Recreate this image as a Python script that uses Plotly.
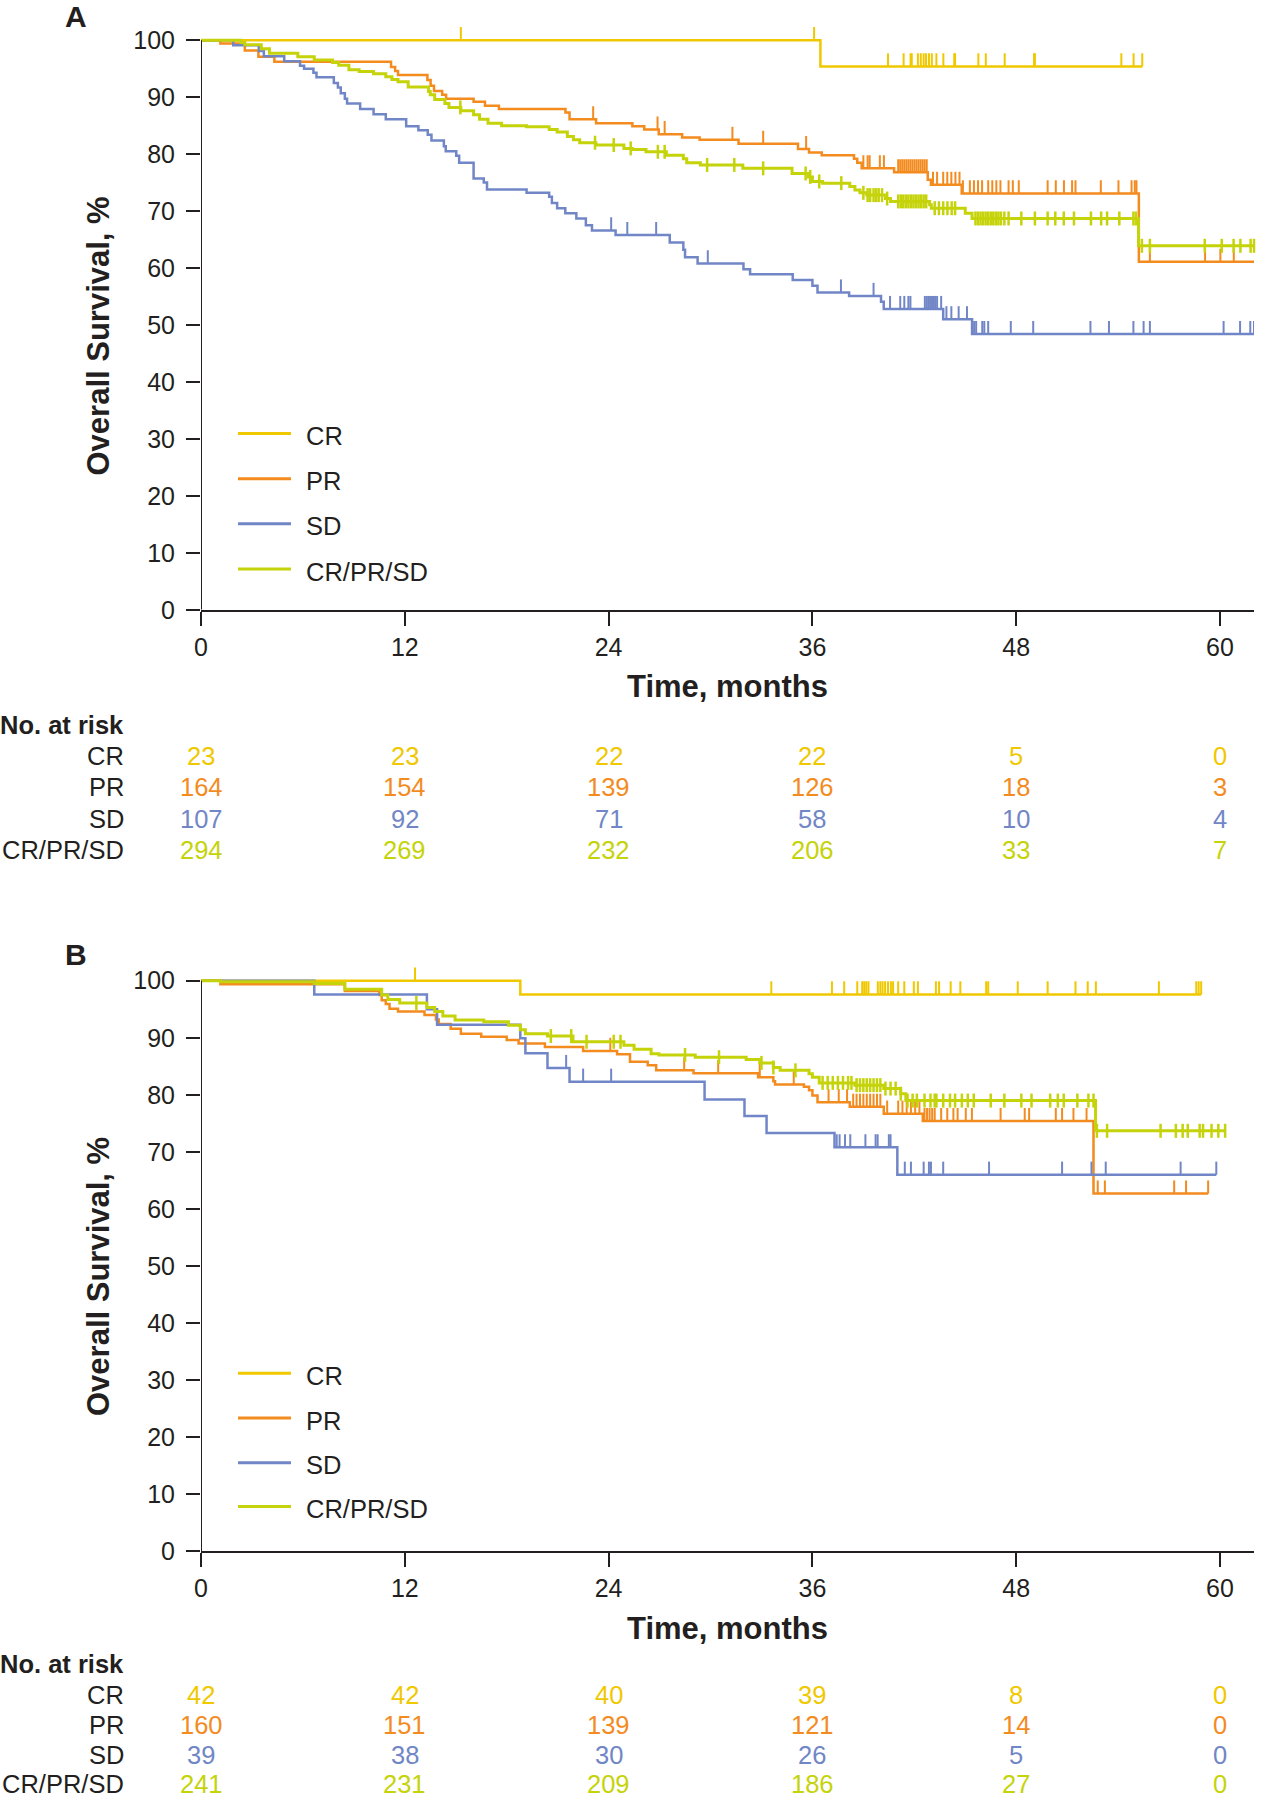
import numpy as np
import plotly.graph_objects as go

W, H = 1262, 1800
FONT = "Liberation Sans, Arial, Helvetica, sans-serif"
INK = "#231F20"

GROUPS = ["CR", "PR", "SD", "CR/PR/SD"]
COLORS = {"CR": "#F0C800", "PR": "#F38B1F", "SD": "#7186C6", "CR/PR/SD": "#C5D30A"}
RISK_TIMES = [0, 12, 24, 36, 48, 60]
Y_TICKS = list(range(0, 101, 10))

# ---------------- Panel A ----------------
A_CR_T = [36.47]
A_CR_S = [95.4]
A_CR_C = [15.3, 36.1, 40.45, 41.37, 41.78, 41.85, 42.21, 42.38, 42.55, 42.69, 42.86, 43.03,
          43.30, 43.71, 44.35, 44.40, 45.77, 46.21, 47.32, 49.05, 49.1, 54.19, 54.91, 55.42]

A_PR_T = [1.14, 2.58, 3.38, 4.32, 11.19, 11.43, 11.6, 13.33, 13.52, 13.72, 14.2, 14.43, 16.05,
          16.72, 17.54, 21.46, 21.7, 23.26, 25.4, 26.1, 26.95, 28.33, 29.36, 31.65, 35.15, 35.8,
          36.55, 38.45, 38.64, 38.9, 40.81, 42.79, 42.98, 44.79, 55.22]
A_PR_S = [99.4, 98.2, 97.1, 96.2, 95.3, 94.6, 93.9, 93.0, 92.0, 91.1, 90.4, 89.7, 89.2,
          88.5, 87.9, 87.3, 86.1, 85.4, 84.9, 84.3, 83.5, 82.9, 82.5, 81.8, 80.9, 80.3,
          79.8, 79.2, 78.5, 77.5, 76.8, 75.5, 74.6, 73.1, 61.1]
A_PR_C = [23.09, 26.88, 27.3, 31.29, 33.1, 35.63, 39.0, 39.25, 39.37, 39.97, 40.21, 41.05, 41.17,
          41.29, 41.41, 41.53, 41.65, 41.77, 41.89, 42.01, 42.13, 42.25, 42.37, 42.49, 42.61,
          42.73, 43.1, 43.34, 43.7, 43.94, 44.18, 44.42, 44.66, 44.86, 45.27, 45.51, 45.75, 45.99,
          46.35, 46.59, 46.83, 47.07, 47.55, 47.8, 48.15, 49.85, 50.33, 50.81, 51.29, 51.49, 52.98,
          54.02, 54.79, 54.98, 55.08, 55.87, 59.12, 60.02, 60.81, 62.07]

A_SD_T = [1.9, 3.4, 3.7, 4.9, 5.83, 6.07, 6.62, 6.8, 7.82, 8.06, 8.23, 8.47, 8.6, 9.37, 10.16,
          10.88, 12.08, 12.8, 13.35, 13.57, 14.3, 14.41, 15.03, 15.2, 16.05, 16.65, 16.84, 19.17,
          20.5, 20.66, 20.97, 21.45, 22.1, 22.66, 23.02, 24.41, 27.6, 28.4, 28.5, 29.24, 31.94,
          32.33, 34.84, 36.0, 36.3, 38.16, 40.04, 40.2, 43.7, 45.4]
A_SD_S = [99.1, 98.1, 97.2, 96.3, 95.5, 95.0, 94.3, 93.5, 92.5, 91.7, 90.7, 89.7, 88.9, 87.9, 87.0,
          86.1, 84.9, 84.2, 83.4, 82.4, 81.4, 80.5, 79.7, 78.5, 75.7, 75.0, 73.8, 73.2,
          72.5, 71.4, 70.5, 69.6, 68.7, 67.5, 66.6, 65.8, 64.5, 63.2, 61.9, 60.8, 59.8,
          58.9, 57.9, 56.9, 55.7, 55.1, 54.1, 52.8, 51.0, 48.4]
A_SD_C = [24.15, 25.1, 26.8, 29.84, 37.68, 39.6, 40.57, 41.17, 41.41, 41.65, 41.77, 42.62, 42.74,
          42.86, 42.98, 43.1, 43.22, 43.34, 43.58, 43.89, 44.18, 44.61, 45.1, 45.52, 45.64, 46.0,
          46.12, 46.35, 47.68, 49.0, 52.37, 53.46, 54.9, 55.5, 55.87, 60.21, 61.18, 61.78, 62.0]

A_ALL_T = [2.35, 2.58, 3.55, 4.03, 5.7, 6.67, 7.75, 8.11, 8.71, 9.31, 10.16, 10.88, 11.24, 11.6,
           12.2, 13.4, 13.5, 13.76, 14.36, 14.6, 15.3, 16.05, 16.4, 16.9, 17.7, 19.17, 20.5,
           20.97, 21.57, 21.93, 22.3, 23.25, 24.9, 25.4, 26.2, 27.4, 28.4, 28.6, 29.4, 31.9,
           34.8, 35.75, 36.0, 36.6, 38.2, 38.5, 38.8, 39.2, 40.3, 40.6, 42.9, 43.0, 45.0, 45.4, 55.2]
A_ALL_S = [99.6, 99.2, 98.5, 97.7, 97.1, 96.5, 96.1, 95.6, 94.8, 94.5, 94.1, 93.6, 93.1, 92.7,
           91.8, 91.0, 90.4, 89.6, 88.9, 88.2, 87.6, 86.9, 86.1, 85.4, 85.0, 84.8, 84.3,
           83.9, 83.1, 82.5, 82.0, 81.6, 81.0, 80.8, 80.4, 79.8, 79.2, 78.5, 78.1, 77.5,
           76.6, 76.0, 75.2, 74.9, 74.3, 73.7, 73.2, 72.8, 72.2, 71.7, 71.1, 70.5, 69.6, 68.7, 63.9]
A_ALL_C = [15.27, 23.2, 24.3, 25.3, 26.9, 27.3, 29.8, 31.4, 33.1, 35.6, 35.87, 36.4, 37.7, 39.0,
           39.25, 39.4, 39.6, 39.75, 39.9, 40.1, 40.4, 41.05, 41.2, 41.35, 41.5, 41.65, 41.8, 41.95,
           42.1, 42.25, 42.4, 42.55, 42.7, 43.2, 43.45, 43.7, 43.95, 44.2, 44.4, 45.6, 45.75, 45.9,
           46.05, 46.2, 46.35, 46.5, 46.65, 46.8, 46.95, 47.1, 47.3, 47.55, 48.3, 49.1, 49.85,
           50.3, 50.8, 51.4, 52.4, 53.0, 53.35, 54.07, 54.9, 55.05, 55.4, 55.87, 59.1, 60.1,
           60.8, 61.2, 61.8, 62.0]

RISK_A_CR = [23, 23, 22, 22, 5, 0]
RISK_A_PR = [164, 154, 139, 126, 18, 3]
RISK_A_SD = [107, 92, 71, 58, 10, 4]
RISK_A_ALL = [294, 269, 232, 206, 33, 7]

# ---------------- Panel B ----------------
B_CR_T = [18.8]
B_CR_S = [97.6]
B_CR_C = [12.6, 33.58, 37.15, 37.87, 38.64, 38.93, 39.05, 39.17, 39.3, 39.85, 40.0, 40.13, 40.28,
          40.45, 40.62, 40.75, 41.05, 41.41, 41.97, 42.21, 43.27, 43.46, 44.14, 44.71, 46.23, 46.35,
          48.09, 49.85, 51.49, 52.21, 52.69, 56.4, 58.6, 58.74, 58.89]

B_PR_T = [1.14, 8.47, 10.5, 10.64, 10.88, 11.1, 11.6, 13.16, 13.83, 14.0, 14.7, 15.3, 16.5, 18.0,
          18.7, 20.25, 22.5, 24.5, 25.26, 26.3, 26.8, 29.0, 32.8, 33.7, 33.8, 35.5, 35.8, 36.0,
          36.3, 38.2, 40.2, 42.5, 52.55]
B_PR_S = [99.4, 98.2, 97.5, 96.6, 95.9, 95.1, 94.6, 94.0, 93.2, 92.4, 91.6, 90.7, 90.2, 89.6,
          89.0, 88.4, 87.7, 87.1, 85.8, 85.2, 84.3, 83.8, 83.1, 82.4, 81.8, 81.4, 80.8, 79.9,
          78.7, 77.9, 76.7, 75.4, 62.7]
B_PR_C = [24.1, 28.45, 30.45, 32.9, 34.9, 36.95, 37.55, 38.04, 38.4, 38.6, 38.8, 39.0, 39.2, 39.4,
          39.6, 39.8, 40.0, 40.4, 41.05, 41.3, 41.55, 41.8, 42.05, 42.3, 42.6, 42.75, 42.9, 43.05,
          43.2, 43.58, 43.94, 44.3, 44.55, 45.03, 45.39, 47.08, 48.5, 48.76, 50.33, 50.7, 51.37,
          52.14, 52.8, 53.22, 57.3, 58.0, 59.3]

B_SD_T = [6.67, 13.3, 13.9, 18.8, 19.1, 20.4, 21.7, 29.65, 32.0, 33.3, 37.3, 41.0]
B_SD_S = [97.6, 95.0, 92.3, 89.9, 87.3, 84.7, 82.3, 79.2, 76.3, 73.3, 70.8, 66.0]
B_SD_C = [21.5, 22.5, 24.15, 37.43, 37.6, 37.92, 38.23, 39.12, 39.72, 39.84, 40.5, 40.6, 41.44,
          41.8, 42.55, 42.86, 42.98, 43.7, 46.4, 50.7, 52.43, 53.27, 57.68, 59.78]

B_ALL_T = [1.14, 6.67, 8.47, 10.64, 11.0, 11.7, 13.3, 13.76, 14.24, 14.96, 16.65, 18.1, 18.8,
           19.1, 20.4, 21.9, 24.9, 25.5, 26.5, 26.96, 29.1, 32.1, 32.9, 33.7, 34.1, 35.8, 36.0,
           36.4, 38.5, 40.2, 41.2, 41.5, 52.67]
B_ALL_S = [99.8, 99.5, 98.5, 97.5, 96.7, 96.1, 95.3, 94.6, 93.8, 93.1, 92.8, 92.2, 91.4,
           90.7, 90.3, 89.3, 88.7, 88.0, 87.2, 87.0, 86.6, 86.2, 85.6, 84.8, 84.3, 83.7, 83.1,
           82.1, 81.7, 81.1, 80.2, 79.0, 73.7]
B_ALL_C = [12.68, 20.6, 21.8, 22.7, 24.3, 24.7, 28.5, 30.5, 33.0, 33.7, 35.0, 36.6, 36.9, 37.2,
           37.5, 37.8, 38.1, 38.3, 38.6, 38.8, 39.0, 39.2, 39.4, 39.6, 39.8, 40.0, 40.3, 40.6, 40.9,
           41.2, 41.6, 41.9, 42.15, 42.6, 42.95, 43.2, 43.3, 43.7, 44.1, 44.4, 44.8, 45.15, 45.5,
           46.5, 47.3, 48.3, 48.9, 50.0, 50.45, 50.8, 51.6, 52.25, 52.55, 52.75, 53.35, 56.5, 57.4,
           57.8, 58.1, 58.8, 59.0, 59.5, 59.9, 60.3]

RISK_B_CR = [42, 42, 40, 39, 8, 0]
RISK_B_PR = [160, 151, 139, 121, 14, 0]
RISK_B_SD = [39, 38, 30, 26, 5, 0]
RISK_B_ALL = [241, 231, 209, 186, 27, 0]

# ---------------- layout geometry (pixels) ----------------
PLOT_X0, PLOT_X1 = 201, 1254
X_RANGE = [0, 62]
Y_RANGE = [0, 104]
PANELS = [
    dict(name="A", top=17.4, bottom=609.8, label_y=16.3, xtitle_y=687, ytitle_y=336,
         legend_y=[433.5, 478.7, 523.7, 569.0], risk_title_y=725, risk_y=[756, 787, 818.7, 849.5],
         curves=[(A_CR_T, A_CR_S, A_CR_C), (A_PR_T, A_PR_S, A_PR_C), (A_SD_T, A_SD_S, A_SD_C),
                 (A_ALL_T, A_ALL_S, A_ALL_C)],
         risk=[RISK_A_CR, RISK_A_PR, RISK_A_SD, RISK_A_ALL]),
    dict(name="B", top=957.9, bottom=1551.4, label_y=954.3, xtitle_y=1628, ytitle_y=1276.5,
         legend_y=[1373.2, 1418.0, 1462.8, 1506.5], risk_title_y=1664, risk_y=[1694.5, 1724.5, 1754.5, 1784],
         curves=[(B_CR_T, B_CR_S, B_CR_C), (B_PR_T, B_PR_S, B_PR_C), (B_SD_T, B_SD_S, B_SD_C),
                 (B_ALL_T, B_ALL_S, B_ALL_C)],
         risk=[RISK_B_CR, RISK_B_PR, RISK_B_SD, RISK_B_ALL]),
]
TICK_UP = 2.3  # censor tick height in % units


def fx(px):
    return px / W


def fy(py):
    return 1 - py / H


def surv_at(t_ev, s_ev, t):
    idx = int(np.searchsorted(np.asarray(t_ev), t, side="right"))
    return 100.0 if idx == 0 else s_ev[idx - 1]


fig = go.Figure()
annotations = []
shapes = []

for pi, p in enumerate(PANELS):
    xa = "x" if pi == 0 else "x2"
    ya = "y" if pi == 0 else "y2"
    for gi, (g, (t_ev, s_ev, cens)) in enumerate(zip(GROUPS, p["curves"])):
        col = COLORS[g]
        end = max(max(cens), t_ev[-1])
        xs = [0] + list(t_ev) + [end]
        ys = [100] + list(s_ev) + [s_ev[-1]]
        lw = 3 if g == "CR/PR/SD" else 2.5
        fig.add_trace(go.Scatter(x=xs, y=ys, mode="lines", line=dict(color=col, width=lw, shape="hv"),
                                 xaxis=xa, yaxis=ya, showlegend=False, hoverinfo="skip", name=g))
        cy = [surv_at(t_ev, s_ev, c) for c in cens]
        if g == "CR/PR/SD":
            fig.add_trace(go.Scatter(x=cens, y=cy, mode="markers",
                                     marker=dict(symbol="line-ns", size=10, line=dict(color=col, width=2.5)),
                                     xaxis=xa, yaxis=ya, showlegend=False, hoverinfo="skip", cliponaxis=False))
        else:
            tx, ty = [], []
            for c, v in zip(cens, cy):
                tx += [c, c, None]
                ty += [v, v + TICK_UP, None]
            fig.add_trace(go.Scatter(x=tx, y=ty, mode="lines", line=dict(color=col, width=2),
                                     xaxis=xa, yaxis=ya, showlegend=False, hoverinfo="skip"))

    # y axis line 0..100
    shapes.append(dict(type="line", xref=xa, yref=ya, x0=0, x1=0, y0=0, y1=100,
                       line=dict(color=INK, width=2), layer="above"))

    # panel letter
    annotations.append(dict(text="<b>" + p["name"] + "</b>", x=fx(75.5), y=fy(p["label_y"]), xref="paper",
                            yref="paper", xanchor="center", yanchor="middle", showarrow=False,
                            font=dict(size=30, color=INK, family=FONT)))
    # axis titles
    annotations.append(dict(text="<b>Time, months</b>", x=fx((PLOT_X0 + PLOT_X1) / 2), y=fy(p["xtitle_y"]),
                            xref="paper", yref="paper", xanchor="center", yanchor="middle", showarrow=False,
                            font=dict(size=31, color=INK, family=FONT)))
    annotations.append(dict(text="<b>Overall Survival, %</b>", x=fx(98.5), y=fy(p["ytitle_y"]),
                            xref="paper", yref="paper", xanchor="center", yanchor="middle", showarrow=False,
                            textangle=-90, font=dict(size=31, color=INK, family=FONT)))
    # legend
    for g, ly in zip(GROUPS, p["legend_y"]):
        shapes.append(dict(type="line", xref="paper", yref="paper", x0=fx(238), x1=fx(291),
                           y0=fy(ly), y1=fy(ly), line=dict(color=COLORS[g], width=3)))
        annotations.append(dict(text=g, x=fx(304), y=fy(ly + 2.5), xref="paper", yref="paper",
                                xanchor="left", yanchor="middle", showarrow=False,
                                font=dict(size=25.5, color=INK, family=FONT)))
    # risk table
    annotations.append(dict(text="<b>No. at risk</b>", x=0, y=fy(p["risk_title_y"]), xref="paper",
                            yref="paper", xanchor="left", yanchor="middle", showarrow=False,
                            borderpad=0, xshift=-1,
                            font=dict(size=25.5, color=INK, family=FONT)))
    for g, ry, vals in zip(GROUPS, p["risk_y"], p["risk"]):
        annotations.append(dict(text=g, x=fx(125), y=fy(ry), xref="paper", yref="paper",
                                xanchor="right", yanchor="middle", showarrow=False, borderpad=0,
                                font=dict(size=25.5, color=INK, family=FONT)))
        for t, v in zip(RISK_TIMES, vals):
            annotations.append(dict(text=str(v), x=t, y=fy(ry), xref=xa, yref="paper",
                                    xanchor="center", yanchor="middle", showarrow=False,
                                    font=dict(size=25.5, color=COLORS[g], family=FONT)))

axis_common_x = dict(range=X_RANGE, tickvals=RISK_TIMES, ticks="outside", ticklen=14, tickwidth=2,
                     tickcolor=INK, showline=True, linewidth=2, linecolor=INK, showgrid=False,
                     zeroline=False, tickfont=dict(size=25, color=INK, family=FONT), automargin=False,
                     ticklabelstandoff=0, domain=[fx(PLOT_X0), fx(PLOT_X1)], fixedrange=True)
axis_common_y = dict(range=Y_RANGE, tickvals=Y_TICKS, ticks="outside", ticklen=14, tickwidth=2,
                     tickcolor=INK, showline=False, showgrid=False, zeroline=False, automargin=False,
                     tickfont=dict(size=25, color=INK, family=FONT), ticklabelstandoff=6, fixedrange=True)

fig.update_layout(
    template="none",
    width=W, height=H, autosize=False,
    margin=dict(l=0, r=0, t=0, b=0, pad=0),
    paper_bgcolor="white", plot_bgcolor="white",
    font=dict(family=FONT, color=INK),
    xaxis=dict(axis_common_x, anchor="y"),
    yaxis=dict(axis_common_y, anchor="x", domain=[fy(PANELS[0]["bottom"]), fy(PANELS[0]["top"])]),
    xaxis2=dict(axis_common_x, anchor="y2"),
    yaxis2=dict(axis_common_y, anchor="x2", domain=[fy(PANELS[1]["bottom"]), fy(PANELS[1]["top"])]),
    annotations=annotations,
    shapes=shapes,
    showlegend=False,
)

PAGE_CSS_JS = ("document.documentElement.style.margin='0';document.body.style.margin='0';"
               "document.body.style.padding='0';document.body.style.overflow='hidden';"
               "document.documentElement.style.overflow='hidden';")
fig.write_html("out.html", config={"displayModeBar": False}, post_script=PAGE_CSS_JS)
